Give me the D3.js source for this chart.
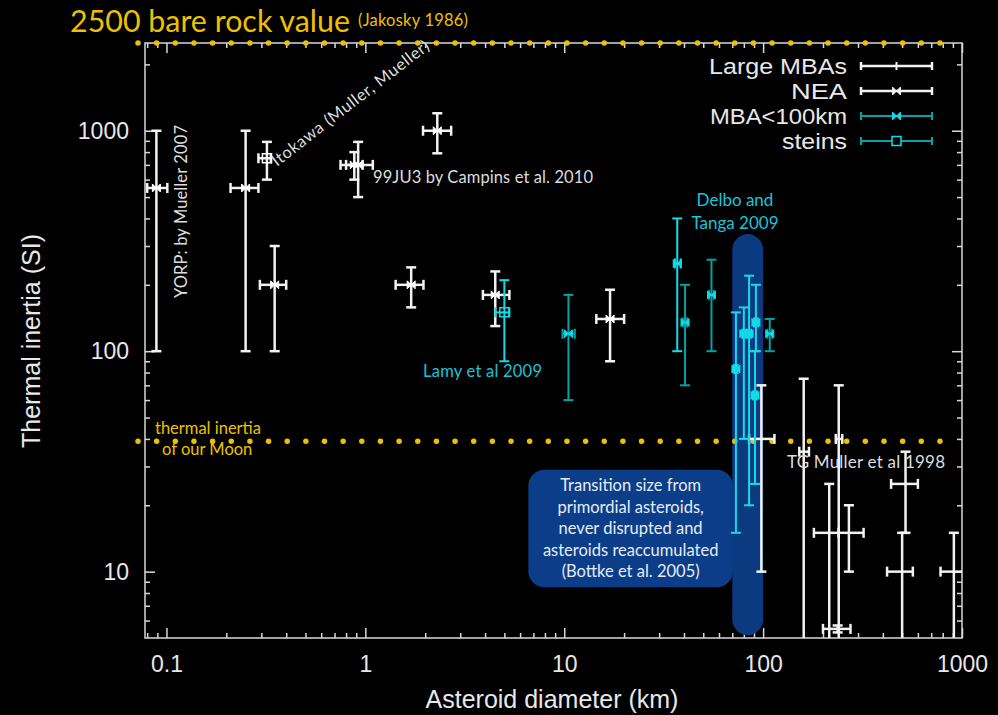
<!DOCTYPE html>
<html>
<head>
<meta charset="utf-8">
<script src="https://cdn.jsdelivr.net/npm/d3@7"></script>
<style>
  body { margin: 0; background: #000; }
  svg { display: block; }
</style>
</head>
<body>
<div id="chart-area"></div>
<script>
// each point: [diameter, diamLo, diamHi, inertia, inertiaLo, inertiaHi]
var neaPoints = [
    [0.089, 0.080, 0.101, 550, 100, 1000],
    [0.25, 0.21, 0.29, 550, 100, 1000],
    [0.35, 0.295, 0.40, 200, 100, 300],
    [0.92, 0.75, 1.09, 700, 500, 890],
    [0.88, 0.80, 0.97, 700, 600, 800],
    [1.7, 1.42, 1.96, 200, 158, 240],
    [2.3, 1.95, 2.7, 1000, 790, 1200],
    [4.5, 3.9, 5.3, 180, 130, 230],
    [17, 14.5, 20, 140, 90, 190]
];
var itokawa = [[0.32, 0.29, 0.335, 750, 600, 890]];
var largeMBAs = [
    [98, 85, 114, 40, 10, 70],
    [160, 152, 170, 35, 4, 75],
    [240, 232, 250, 40, 4, 70],
    [215, 180, 240, 15, 4, 25],
    [270, 240, 320, 15, 10, 20],
    [237, 200, 275, 5.5, 5.3, 5.7],
    [520, 440, 600, 25, 15, 35],
    [500, 420, 566, 10, 4, 15],
    [910, 780, 1040, 10, 4, 15]
];
var mbaSmall = [
    [10.5, 9.8, 11.3, 120, 60, 180],
    [40.5, 39.5, 41.5, 135, 70, 200],
    [55, 53.5, 56.5, 180, 100, 260],
    [108, 105, 111, 120, 100, 140]
];
var mbaDelbo = [
    [37, 36, 38.5, 250, 100, 400],
    [73, 71.5, 74.5, 83, 15, 150],
    [80, 78.5, 81.5, 120, 40, 158],
    [85, 83, 87, 120, 20, 220],
    [92, 90, 94, 135, 100, 200],
    [91, 89, 93, 63, 25, 100]
];
var steins = [[5.0, 4.5, 5.3, 150, 90, 210]];

var bareRock = 2500, moonValue = 39;
var transitionBand = [70, 100];

var xMajor = [0.1, 1, 10, 100, 1000];
var yMajor = [10, 100, 1000];
var legendNames = ["Large MBAs", "NEA", "MBA<100km", "steins"];
var legendWidths = [138, 56, 137, 65];

var W = 998, H = 715;
var margin = { left: 145, right: 36, top: 43, bottom: 77 };
var width = W - margin.left - margin.right,
    height = H - margin.top - margin.bottom;

var svg = d3.select("#chart-area").append("svg")
    .attr("width", W).attr("height", H)
    .style("background", "#000");

var g = svg.append("g")
    .attr("transform", "translate(" + margin.left + "," + margin.top + ")");

var x = d3.scaleLog().domain([0.078, 1000]).range([0, width]);
var y = d3.scaleLog().domain([5, 2500]).range([height, 0]);

function minors(lo, hi) {
    var out = [];
    for (var e = lo; e < hi; e++) {
        for (var k = 2; k <= 9; k++) out.push(k * Math.pow(10, e));
    }
    return out;
}
var xMinor = minors(-2, 3).filter(function(v){ return v > 0.078 && v < 1000; });
var yMinor = minors(0, 4).filter(function(v){ return v > 5 && v < 2500; });

var fmt = function(d){ return d < 1 ? d3.format(".1f")(d) : d3.format("d")(d); };
var GRAY = "#d8d8d8";

// axes, ticks pointing inward on all four sides
function axisSet(gen, scale, major, minor, tr, labels) {
    var a = g.append("g").attr("transform", tr)
        .call(gen(scale).tickValues(minor).tickSize(-5).tickFormat(""));
    var b = g.append("g").attr("transform", tr)
        .call(gen(scale).tickValues(major).tickSize(-10).tickPadding(12)
            .tickFormat(labels ? fmt : ""));
    [a, b].forEach(function(s){
        s.select(".domain").remove();
        s.selectAll("line").attr("stroke", GRAY).attr("stroke-width", 1.5);
    });
    return b;
}
var xb = axisSet(d3.axisBottom, x, xMajor, xMinor, "translate(0," + height + ")", true);
axisSet(d3.axisTop, x, xMajor, xMinor, "translate(0,0)", false);
var yl = axisSet(d3.axisLeft, y, yMajor, yMinor, "translate(0,0)", true);
axisSet(d3.axisRight, y, yMajor, yMinor, "translate(" + width + ",0)", false);

xb.selectAll("text").attr("fill", "#e8e8e8").attr("font-family", "Liberation Sans, Arial")
    .attr("font-size", "23px").attr("dy", "0.95em");
yl.selectAll("text").attr("fill", "#e8e8e8").attr("font-family", "Liberation Sans, Arial")
    .attr("font-size", "23px").attr("dx", "-4px");

g.append("rect")
    .attr("width", width).attr("height", height)
    .attr("fill", "none").attr("stroke", GRAY).attr("stroke-width", 1.5);

g.append("text")
    .attr("x", 552 - margin.left).attr("y", height + 70)
    .attr("text-anchor", "middle")
    .attr("font-family", "Liberation Sans, Arial").attr("font-size", "25px")
    .attr("fill", "#e8e8e8")
    .text("Asteroid diameter (km)");

g.append("text")
    .attr("transform", "rotate(-90)")
    .attr("x", -(341 - margin.top)).attr("y", -105)
    .attr("text-anchor", "middle")
    .attr("font-family", "Liberation Sans, Arial").attr("font-size", "25px")
    .attr("fill", "#e8e8e8")
    .text("Thermal inertia (SI)");

// transition band + note box
var BLUE = "#0b3a80";
g.append("rect")
    .attr("x", x(transitionBand[0])).attr("y", y(340))
    .attr("width", x(transitionBand[1]) - x(transitionBand[0]))
    .attr("height", y(5.15) - y(340))
    .attr("rx", 16).attr("fill", BLUE);

g.append("rect")
    .attr("x", x(6.6)).attr("y", y(29))
    .attr("width", x(70.5) - x(6.6)).attr("height", y(8.5) - y(29))
    .attr("rx", 16).attr("fill", "#0c3d88");

var noteLines = ["Transition size from", "primordial asteroids,", "never disrupted and",
    "asteroids reaccumulated", "(Bottke et al. 2005)"];
g.append("text")
    .attr("font-family", "Lato, sans-serif").attr("font-size", "16.5px")
    .attr("fill", "#e6ecf5").attr("text-anchor", "middle")
    .selectAll("tspan").data(noteLines).enter().append("tspan")
    .attr("x", (x(6.6) + x(70.5)) / 2)
    .attr("y", function(d, i){ return 491 - margin.top + i * 21.5; })
    .text(function(d){ return d; });

// yellow dotted reference lines
var GOLD = "#eec000";
[bareRock, moonValue].forEach(function(v){
    g.append("line")
        .attr("x1", -7).attr("x2", width - 18)
        .attr("y1", y(v)).attr("y2", y(v))
        .attr("stroke", GOLD).attr("stroke-width", 5.5)
        .attr("stroke-linecap", "round")
        .attr("stroke-dasharray", "0 18.65");
});

svg.append("text")
    .attr("x", 70).attr("y", 32)
    .attr("font-family", "Lato, sans-serif").attr("font-size", "30px")
    .attr("fill", GOLD)
    .attr("textLength", 280).attr("lengthAdjust", "spacingAndGlyphs")
    .text("2500 bare rock value");
svg.append("text")
    .attr("x", 358).attr("y", 26)
    .attr("font-family", "Lato, sans-serif").attr("font-size", "16.5px")
    .attr("fill", GOLD)
    .attr("textLength", 110)
    .text("(Jakosky 1986)");
svg.append("text")
    .attr("font-family", "Lato, sans-serif").attr("font-size", "16.5px")
    .attr("fill", GOLD)
    .selectAll("tspan").data(["thermal inertia", "of our Moon"]).enter().append("tspan")
    .attr("x", function(d, i){ return i ? 162 : 155; })
    .attr("y", function(d, i){ return i ? 455 : 434; })
    .text(function(d){ return d; });

// data
g.append("clipPath").attr("id", "plotclip")
    .append("rect").attr("width", width).attr("height", height);
var marks = g.append("g").attr("clip-path", "url(#plotclip)");

function errorBars(data, color, lw, cap) {
    var pts = marks.append("g").selectAll("g").data(data).enter().append("g")
        .attr("stroke", color).attr("stroke-width", lw).attr("fill", "none");
    pts.append("line")
        .attr("x1", function(d){ return x(d[0]); }).attr("x2", function(d){ return x(d[0]); })
        .attr("y1", function(d){ return y(d[4]); }).attr("y2", function(d){ return y(d[5]); });
    pts.append("line")
        .attr("x1", function(d){ return x(d[1]); }).attr("x2", function(d){ return x(d[2]); })
        .attr("y1", function(d){ return y(d[3]); }).attr("y2", function(d){ return y(d[3]); });
    [4, 5].forEach(function(k){
        pts.append("line")
            .attr("x1", function(d){ return x(d[0]) - cap; }).attr("x2", function(d){ return x(d[0]) + cap; })
            .attr("y1", function(d){ return y(d[k]); }).attr("y2", function(d){ return y(d[k]); });
    });
    [1, 2].forEach(function(k){
        pts.append("line")
            .attr("x1", function(d){ return x(d[k]); }).attr("x2", function(d){ return x(d[k]); })
            .attr("y1", function(d){ return y(d[3]) - cap; }).attr("y2", function(d){ return y(d[3]) + cap; });
    });
    return pts;
}

var bowtie = "M-4,-4L4,4V-4L-4,4Z";
function markers(data, shape, color) {
    var m = marks.append("g").selectAll("path").data(data).enter().append("path")
        .attr("transform", function(d){ return "translate(" + x(d[0]) + "," + y(d[3]) + ")"; });
    if (shape === "bowtie") {
        m.attr("d", bowtie).attr("fill", color).attr("stroke", color).attr("stroke-width", 1);
    } else {
        m.attr("d", "M-4.5,-4.5H4.5V4.5H-4.5Z").attr("fill", "none")
            .attr("stroke", color).attr("stroke-width", 1.5);
    }
}

var WHITE = "#f2f2f2", TEAL = "#00a3a6", CYAN = "#13dbe8";
errorBars(largeMBAs, WHITE, 2.5, 5);
errorBars(neaPoints, WHITE, 2.5, 5);
markers(neaPoints, "bowtie", "#ffffff");
errorBars(itokawa, WHITE, 2.5, 5);
markers(itokawa, "square", "#ffffff");
errorBars(mbaSmall, TEAL, 2, 5);
markers(mbaSmall, "bowtie", CYAN);
errorBars(mbaDelbo, CYAN, 2, 5);
markers(mbaDelbo, "bowtie", CYAN);
errorBars(steins, CYAN, 2, 5);
markers(steins, "square", CYAN);

// annotations
var annFont = "Lato, sans-serif";
svg.append("text")
    .attr("transform", "translate(187,298) rotate(-90)")
    .attr("font-family", annFont).attr("font-size", "16.5px").attr("fill", "#dddddd")
    .attr("textLength", 173)
    .text("YORP: by Mueller 2007");
svg.append("text")
    .attr("transform", "translate(277,167) rotate(-37.7)")
    .attr("font-family", annFont).attr("font-size", "16.5px").attr("fill", "#dddddd")
    .attr("textLength", 194)
    .text("Itokawa (Muller, Mueller)");
svg.append("text")
    .attr("x", 373).attr("y", 183)
    .attr("font-family", annFont).attr("font-size", "16.5px").attr("fill", "#dddddd")
    .attr("textLength", 220)
    .text("99JU3 by Campins et al. 2010");
svg.append("text")
    .attr("x", 423).attr("y", 377)
    .attr("font-family", annFont).attr("font-size", "16.5px").attr("fill", "#18c4dc")
    .attr("textLength", 119)
    .text("Lamy et al 2009");
svg.append("text")
    .attr("font-family", annFont).attr("font-size", "17px").attr("fill", "#18c4dc")
    .attr("text-anchor", "middle")
    .selectAll("tspan").data(["Delbo and", "Tanga 2009"]).enter().append("tspan")
    .attr("x", 735).attr("y", function(d, i){ return 206 + i * 23; })
    .text(function(d){ return d; });
svg.append("text")
    .attr("x", 787).attr("y", 468)
    .attr("font-family", annFont).attr("font-size", "17px").attr("fill", "#dddddd")
    .attr("textLength", 158)
    .text("TG Muller et al 1998");

// legend
var legend = svg.append("g").attr("transform", "translate(847,66)");
var legendStyle = [
    { line: WHITE, mark: "tick", color: WHITE },
    { line: WHITE, mark: "bowtie", color: WHITE },
    { line: TEAL, mark: "bowtie", color: CYAN },
    { line: TEAL, mark: "square", color: CYAN }
];
legendNames.forEach(function(name, i){
    var row = legend.append("g").attr("transform", "translate(0," + (i * 25) + ")");
    var st = legendStyle[i];
    row.append("text")
        .attr("text-anchor", "end").attr("dy", "0.35em")
        .attr("font-family", "Liberation Sans, Arial").attr("font-size", "21.5px")
        .attr("textLength", legendWidths[i]).attr("lengthAdjust", "spacingAndGlyphs")
        .attr("fill", "#e8e8e8")
        .text(name);
    var lw = st.line === WHITE ? 2.5 : 2;
    row.append("line").attr("x1", 14).attr("x2", 85)
        .attr("stroke", st.line).attr("stroke-width", lw);
    [14, 85].forEach(function(px){
        row.append("line").attr("x1", px).attr("x2", px).attr("y1", -4).attr("y2", 4)
            .attr("stroke", st.line).attr("stroke-width", lw);
    });
    var c = row.append("g").attr("transform", "translate(49.5,0)");
    if (st.mark === "tick") {
        c.append("line").attr("y1", -4).attr("y2", 4).attr("stroke", st.color).attr("stroke-width", 2);
    } else if (st.mark === "bowtie") {
        c.append("path").attr("d", bowtie).attr("fill", st.color).attr("stroke", st.color);
    } else {
        c.append("path").attr("d", "M-4.5,-4.5H4.5V4.5H-4.5Z").attr("fill", "#000")
            .attr("stroke", st.color).attr("stroke-width", 1.5);
    }
});
</script>
</body>
</html>
